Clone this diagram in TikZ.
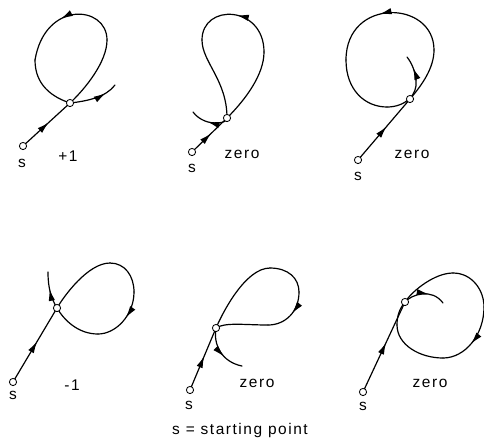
\documentclass[tikz,border=0pt]{standalone}
\usepackage{fontspec}
\setmainfont[LetterSpace=10]{Liberation Sans}
\usetikzlibrary{arrows.meta,decorations.markings}

\begin{document}
\begin{tikzpicture}[
    x=0.025cm, y=-0.025cm,
    pt/.style={draw, circle, fill=white, inner sep=0pt, minimum size=1.8mm, line width=0.6pt},
    lbl/.style={font=\fontsize{11}{13}\selectfont},
    crv/.style={line width=0.85pt, line cap=round},
    midarr/.style={crv, postaction={decorate}, decoration={markings, mark=at position #1 with {\arrow{Latex[length=3mm, width=1.6mm]}}}}
]
\useasboundingbox (0,0) rectangle (484,443);
\draw[midarr=0.55] (23,146) -- (70,103);
\draw[crv] (70,103) .. controls (85,89) and (107,62) .. (107,40);
\draw[midarr=0.55] (107,40) .. controls (107,5) and (45,0) .. (35,60);
\draw[crv] (35,60) .. controls (35,85) and (52,97) .. (70,103);
\draw[midarr=0.75] (70,103) .. controls (88,101) and (106,97) .. (115,85);
\node[pt] (s1) at (23,146) {};
\node[pt] (c1) at (70,103) {};
\node[lbl] (s1l) at (22,163) {s};
\node[lbl] (n1) at (68,156) {+1};
\draw[midarr=0.55] (192,152) -- (227,118);
\draw[crv] (227,118) .. controls (245,100) and (264,75) .. (264,52);
\draw[midarr=0.5] (264,52) .. controls (264,5) and (202,3) .. (202,40);
\draw[crv] (202,40) .. controls (202,62) and (227,80) .. (227,118);
\draw[midarr=0.55] (227,118) .. controls (227,124) and (212,124) .. (205,121) .. controls (200,119) and (196,116) .. (193,112);
\node[pt] (s2) at (192,152) {};
\node[pt] (c2) at (227,118) {};
\node[lbl] (s2l) at (192,168) {s};
\node[lbl] (n2) at (242,154) {zero};
\draw[midarr=0.55] (358,160) -- (410,99);
\draw[crv] (410,99) .. controls (422,85) and (434,68) .. (434,50);
\draw[midarr=0.55] (434,50) .. controls (434,0) and (346,-3) .. (346,60);
\draw[crv] (346,60) .. controls (346,90) and (365,107) .. (387,107);
\draw[crv] (387,107) .. controls (405,107) and (418,95) .. (416,80);
\draw[midarr=0.5] (416,80) .. controls (415,70) and (411,62) .. (407,57);
\node[pt] (s3) at (358,160) {};
\node[pt] (c3) at (410,99) {};
\node[lbl] (s3l) at (358,176) {s};
\node[lbl] (n3) at (412,154) {zero};
\draw[midarr=0.55] (13,382) -- (57,308);
\draw[crv] (57,308) .. controls (64,296) and (88,263) .. (110,263);
\draw[crv] (110,263) .. controls (125,263) and (134,276) .. (134,292);
\draw[midarr=0.45] (134,292) .. controls (134,315) and (116,334) .. (98,334);
\draw[crv] (98,334) .. controls (78,334) and (64,320) .. (57,308);
\draw[midarr=0.55] (57,308) .. controls (51,298) and (48,288) .. (48,272);
\node[pt] (s4) at (13,382) {};
\node[pt] (c4) at (57,308) {};
\node[lbl] (s4l) at (13,395) {s};
\node[lbl] (n4) at (72,385) {-1};
\draw[midarr=0.55] (190,390) -- (216,328);
\draw[crv] (216,328) .. controls (222,314) and (245,268) .. (270,268);
\draw[crv] (270,268) .. controls (288,268) and (299,278) .. (299,292);
\draw[midarr=0.45] (299,292) .. controls (299,312) and (285,325) .. (268,325);
\draw[crv] (268,325) .. controls (245,325) and (225,322) .. (216,328);
\draw[midarr=0.6] (216,328) .. controls (213,345) and (222,362) .. (242,366);
\node[pt] (s5) at (190,390) {};
\node[pt] (c5) at (216,328) {};
\node[lbl] (s5l) at (189,405) {s};
\node[lbl] (n5) at (257,383) {zero};
\draw[midarr=0.55] (363,392) -- (405,302);
\draw[crv] (405,302) .. controls (413,290) and (435,273) .. (453,273);
\draw[crv] (453,273) .. controls (472,273) and (484,290) .. (484,307);
\draw[midarr=0.55] (484,307) .. controls (484,335) and (465,358) .. (443,358);
\draw[crv] (443,358) .. controls (420,358) and (397,345) .. (397,325);
\draw[crv] (397,325) .. controls (397,315) and (400,308) .. (405,302);
\draw[midarr=0.6] (405,302) .. controls (412,294) and (432,288) .. (443,303);
\node[pt] (s6) at (363,392) {};
\node[pt] (c6) at (405,302) {};
\node[lbl] (s6l) at (363,406) {s};
\node[lbl] (n6) at (430,383) {zero};
\node[lbl] (cap) at (240,430) {s = starting point};
\end{tikzpicture}
\end{document}
